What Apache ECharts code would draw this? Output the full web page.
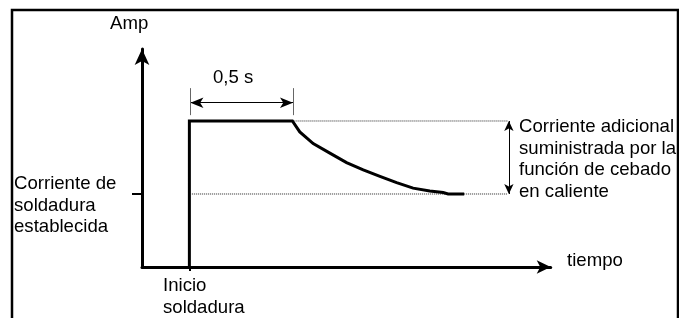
<!DOCTYPE html>
<html>
<head>
<meta charset="utf-8">
<script src="https://cdn.jsdelivr.net/npm/echarts@6/dist/echarts.min.js"></script>
<style>
  html, body { margin: 0; padding: 0; background: #fff; }
  #chart { width: 679px; height: 318px; }
</style>
</head>
<body>
<div id="chart"></div>
<script>
// curva de corriente (tiempo en s, corriente en unidades relativas)
var timeS    = [0, 0, 0.5, 0.536, 0.601, 0.682, 0.763, 0.844, 0.925, 1.006, 1.086, 1.167, 1.232, 1.256, 1.334];
var currentA = [0, 200, 200, 185, 169, 156, 143, 133, 124, 115.5, 108, 104, 102, 100, 100];

var setCurrent = 100;   // corriente de soldadura establecida
var peakCurrent = 200;  // corriente con cebado en caliente
var baseRefT = [0.012, 1.546];
var peakRefT = [0.5, 1.546];
var extraArrowT = 1.551;
var spanT = [0.005, 0.503];   // 0,5 s
var spanLevel = 225;
var spanExt = [208, 245];

var xRange = [-0.23, 1.754];
var yRange = [0, 298.6];

var txtFont = 'Liberation Sans, Arial, sans-serif';

function txt(x, y, text) {
  return {
    type: 'text', x: x, y: y, silent: true,
    style: { text: text, font: '18.6px ' + txtFont, fill: '#000', lineHeight: 21.7, verticalAlign: 'top' }
  };
}

var myChart = echarts.init(document.getElementById('chart'));

var option = {
  animation: false,
  grid: { left: 142, top: 49, width: 408.7, height: 218, outerBoundsMode: 'none' },
  xAxis: {
    type: 'value', min: xRange[0], max: xRange[1],
    axisLine: { show: true, onZero: false, symbol: ['none', 'arrow'], symbolSize: [10, 14], lineStyle: { color: '#000', width: 3 } },
    axisTick: { show: true, customValues: [0], length: 4, lineStyle: { color: '#000', width: 2 } },
    axisLabel: { show: false },
    splitLine: { show: false }
  },
  yAxis: {
    type: 'value', min: yRange[0], max: yRange[1],
    axisLine: { show: true, onZero: false, symbol: ['none', 'arrow'], symbolSize: [11, 16], lineStyle: { color: '#000', width: 3 } },
    axisTick: { show: true, customValues: [setCurrent], length: 10, lineStyle: { color: '#000', width: 2 } },
    axisLabel: { show: false },
    splitLine: { show: false }
  },
  series: [
    {
      name: 'corriente', type: 'line', showSymbol: false, silent: true, z: 5,
      data: timeS.map(function (t, i) { return [t, currentA[i]]; }),
      lineStyle: { color: '#000', width: 3, join: 'miter' }
    },
    {
      type: 'line', showSymbol: false, silent: true,
      data: [[peakRefT[0], peakCurrent], [peakRefT[1], peakCurrent]],
      lineStyle: { color: '#222', width: 1, type: [1, 1] }
    },
    {
      type: 'line', showSymbol: false, silent: true,
      data: [[baseRefT[0], setCurrent], [baseRefT[1], setCurrent]],
      lineStyle: { color: '#222', width: 1, type: [1, 1] }
    },
    {
      type: 'line', data: [], silent: true,
      markLine: {
        silent: true, animation: false,
        label: { show: false },
        lineStyle: { color: '#000', width: 1, type: 'solid' },
        data: [
          [
            { coord: [extraArrowT, peakCurrent], symbol: 'arrow', symbolSize: [7, 10] },
            { coord: [extraArrowT, setCurrent], symbol: 'arrow', symbolSize: [7, 10] }
          ],
          [
            { coord: [spanT[0], spanLevel], symbol: 'arrow', symbolSize: [8, 13] },
            { coord: [spanT[1], spanLevel], symbol: 'arrow', symbolSize: [8, 13] }
          ],
          [
            { coord: [spanT[0], spanExt[0]], symbol: 'none', lineStyle: { color: '#666' } },
            { coord: [spanT[0], spanExt[1]], symbol: 'none' }
          ],
          [
            { coord: [spanT[1], spanExt[0]], symbol: 'none', lineStyle: { color: '#666' } },
            { coord: [spanT[1], spanExt[1]], symbol: 'none' }
          ]
        ]
      }
    }
  ],
  graphic: [
    { type: 'rect', silent: true, shape: { x: 12, y: 10, width: 666, height: 400 },
      style: { fill: 'none', stroke: '#000', lineWidth: 2.5 } },
    txt(110, 13, 'Amp'),
    txt(213, 67.5, '0,5 s'),
    txt(519, 116, 'Corriente adicional\nsuministrada por la\nfunción de cebado\nen caliente'),
    txt(14, 173, 'Corriente de\nsoldadura\nestablecida'),
    txt(163, 275, 'Inicio\nsoldadura'),
    txt(567, 250.5, 'tiempo')
  ]
};

myChart.setOption(option);
</script>
</body>
</html>
